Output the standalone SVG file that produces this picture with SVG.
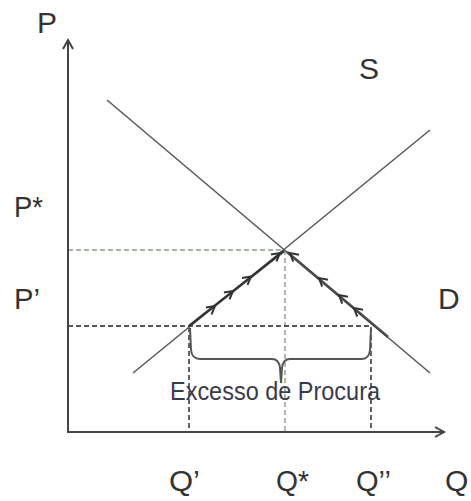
<svg xmlns="http://www.w3.org/2000/svg" xmlns:xlink="http://www.w3.org/1999/xlink" width="471" height="501" viewBox="0 0 471 501">
  <style>
    .lbl { font-family: "Liberation Sans", Arial, sans-serif; font-size: 30px; fill: #333; }
    .cap { font-family: "Liberation Sans", Arial, sans-serif; font-size: 25px; fill: #3a3a4a; }
    .axis { stroke: #444; stroke-width: 2; fill: none; }
    .curve { stroke: #5a5a5a; stroke-width: 1.6; fill: none; }
    .path { stroke: #333; stroke-width: 2.4; fill: none; }
    .path2 { stroke: #4a4a4a; stroke-width: 2.8; fill: none; }
    .chev { stroke: #333; stroke-width: 2; fill: none; stroke-linejoin: miter; }
    .dblack { stroke: #222; stroke-width: 1.4; stroke-dasharray: 5 3; fill: none; }
    .dgreen { stroke: #8a9c8a; stroke-width: 1.4; stroke-dasharray: 5 3; fill: none; }
    .brace { stroke: #555; stroke-width: 2; fill: none; }
  </style>
  <defs>
    <path id="chev" d="M-8,-4.5 L0,0 L-8,4.5" class="chev"/>
  </defs>
  <rect width="471" height="501" fill="#fff"/>

  <g id="guides">
    <line class="dgreen" x1="68" y1="250" x2="285" y2="250"/>
    <line class="dgreen" x1="285" y1="250" x2="285" y2="432"/>
    <line class="dblack" x1="68" y1="326" x2="372" y2="326"/>
    <line class="dblack" x1="189" y1="327" x2="189" y2="432"/>
    <line class="dblack" x1="371" y1="327" x2="371" y2="432"/>
  </g>

  <g id="axes">
    <line class="axis" x1="68" y1="40" x2="68" y2="432"/>
    <path class="axis" d="M63,49 L68,40 L73,49"/>
    <line class="axis" x1="67" y1="432" x2="444" y2="432"/>
    <path class="axis" d="M435,427 L444,432 L435,437"/>
  </g>

  <g id="connectors">
    <line id="supply" class="curve" x1="133" y1="373" x2="430" y2="130"/>
    <line id="demand" class="curve" x1="107" y1="100" x2="430" y2="373"/>
    <line class="path" x1="189" y1="326" x2="284" y2="251"/>
    <line class="path2" x1="287" y1="252" x2="388" y2="337"/>
    <use xlink:href="#chev" transform="translate(215,306) rotate(-38.4)"/>
    <use xlink:href="#chev" transform="translate(233,291) rotate(-38.4)"/>
    <use xlink:href="#chev" transform="translate(251,276.5) rotate(-38.4)"/>
    <use xlink:href="#chev" transform="translate(280,253) rotate(-38.4)"/>
    <use xlink:href="#chev" transform="translate(290,253) rotate(-139.8)"/>
    <use xlink:href="#chev" transform="translate(319,278) rotate(-139.8)"/>
    <use xlink:href="#chev" transform="translate(339,295) rotate(-139.8)"/>
    <use xlink:href="#chev" transform="translate(354,308) rotate(-139.8)"/>
  </g>

  <g id="brace">
    <path class="brace" d="M190,328 L191,350 Q192,359 200,359 L272,359 Q279,359 280,368 L281,383 L282,368 Q283,359 290,359 L362,359 Q369,359 370,350 L371,328"/>
  </g>

  <g id="labels">
    <text class="lbl" x="37" y="33">P</text>
    <text class="lbl" x="14" y="217" textLength="29" lengthAdjust="spacingAndGlyphs">P*</text>
    <text class="lbl" x="14" y="309" textLength="26" lengthAdjust="spacingAndGlyphs">P’</text>
    <text class="lbl" x="359" y="79">S</text>
    <text class="lbl" x="438" y="309">D</text>
    <text class="lbl" x="169" y="491" textLength="31" lengthAdjust="spacingAndGlyphs">Q’</text>
    <text class="lbl" x="276" y="491" textLength="33" lengthAdjust="spacingAndGlyphs">Q*</text>
    <text class="lbl" x="356" y="491" textLength="35" lengthAdjust="spacingAndGlyphs">Q’’</text>
    <text class="lbl" x="445" y="491">Q</text>
    <text class="cap" x="170" y="400" textLength="210" lengthAdjust="spacingAndGlyphs">Excesso de Procura</text>
  </g>
</svg>
